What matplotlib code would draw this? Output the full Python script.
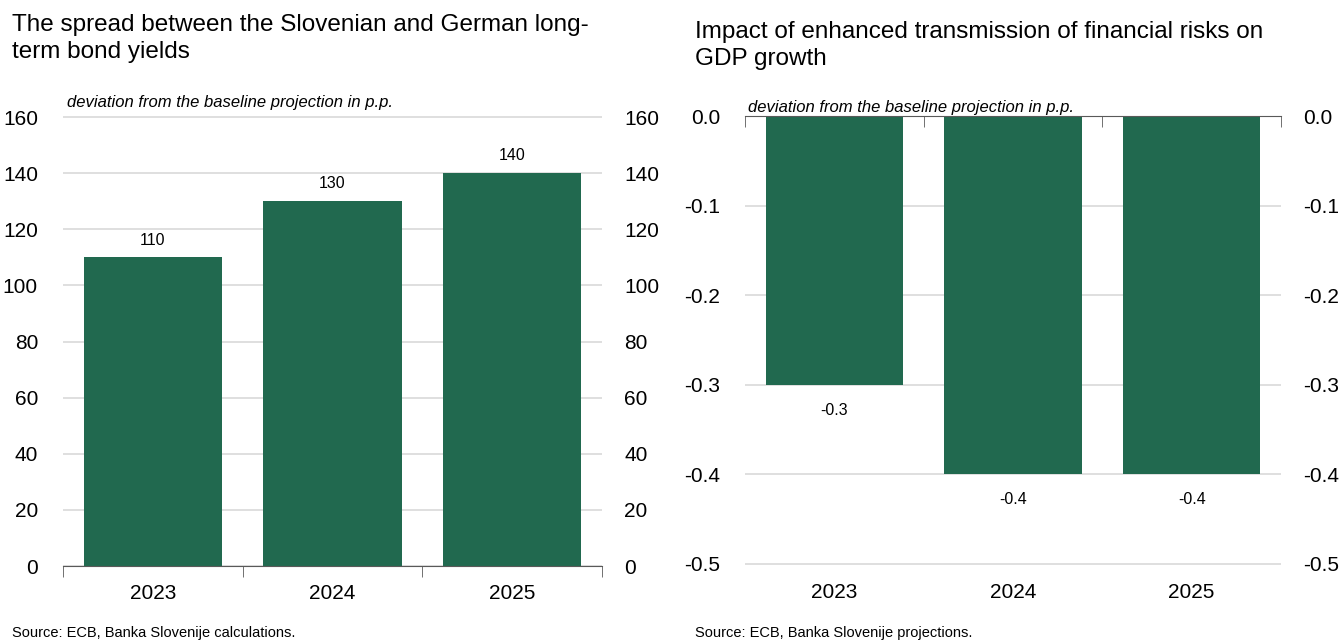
import matplotlib
matplotlib.use('Agg')
import matplotlib.pyplot as plt
import numpy as np

years = ['2023', '2024', '2025']
spread = [110, 130, 140]
gdp = [-0.3, -0.4, -0.4]

BAR = '#21694f'
GRID = '#d9d9d9'
AXIS = '#595959'
FONT = ['Liberation Sans', 'DejaVu Sans']
plt.rcParams['font.family'] = FONT

fig = plt.figure(figsize=(13.41, 6.41), dpi=100)
W, H = 1341, 641


def px_axes(x0, y0, x1, y1):
    return fig.add_axes([x0 / W, 1 - y1 / H, (x1 - x0) / W, (y1 - y0) / H])


def style(ax, ticks, fmt):
    ax.set_xlim(-0.5, 2.5)
    ax.set_yticks(ticks)
    ax.set_yticklabels([fmt(t) for t in ticks], fontsize=15)
    ax.tick_params(axis='y', left=False, right=False, labelleft=True, labelright=True, pad=14.5)
    # right-hand labels sit a bit closer to the plot
    for t in ax.yaxis.get_major_ticks():
        t.label2.set_x(1 - 3 / 540)
    ax.set_xticks(range(3))
    ax.set_xticklabels(years, fontsize=15)
    ax.set_xticks([-0.5, 0.5, 1.5, 2.5], minor=True)
    for s in ['top', 'right', 'left', 'bottom']:
        ax.spines[s].set_visible(False)
    ax.set_axisbelow(True)
    ax.yaxis.grid(True, color=GRID, linewidth=1.2)


x = np.arange(len(years))

# left chart
ax1 = px_axes(63, 116, 602, 566)
ax1.bar(x, spread, width=0.77, color=BAR, zorder=2)
ax1.set_ylim(0, 160.4)
style(ax1, np.arange(0, 161, 20), lambda t: f'{t:.0f}')
ax1.spines['bottom'].set_visible(True)
ax1.spines['bottom'].set_color(AXIS)
ax1.tick_params(axis='x', which='major', length=0, pad=13)
ax1.tick_params(axis='x', which='minor', length=8, direction='out', color=AXIS, bottom=True)
for xi, v in zip(x, spread):
    ax1.text(xi, v + 3.5, f'{v}', ha='center', va='bottom', fontsize=11.5)
ax1.text(4 / 539, 1 + 9 / 450, 'deviation from the baseline projection in p.p.', transform=ax1.transAxes,
         style='italic', fontsize=12, va='baseline')

# right chart
ax2 = px_axes(745, 116, 1281, 565)
ax2.bar(x, gdp, width=0.77, color=BAR, zorder=2)
ax2.set_ylim(-0.5012, 0)
style(ax2, np.arange(-0.5, 0.01, 0.1), lambda t: f'{t:.1f}' if abs(t) > 1e-9 else '0.0')
ax2.spines['top'].set_visible(True)
ax2.spines['top'].set_color(AXIS)
ax2.tick_params(axis='x', which='major', length=0, pad=13)
ax2.tick_params(axis='x', which='minor', length=8, direction='in', color=AXIS,
                bottom=False, top=True)
for xi, v in zip(x, gdp):
    ax2.text(xi, v - 0.02, f'{v:.1f}', ha='center', va='top', fontsize=11.5)
ax2.text(3 / 536, 1 + 4 / 449, 'deviation from the baseline projection in p.p.', transform=ax2.transAxes,
         style='italic', fontsize=12, va='baseline')

# titles and sources
fig.text(12 / W, 1 - 14 / H, 'The spread between the Slovenian and German long-\nterm bond yields',
         fontsize=17.5, va='top', linespacing=1.3)
fig.text(695 / W, 1 - 21 / H, 'Impact of enhanced transmission of financial risks on\nGDP growth',
         fontsize=17.5, va='top', linespacing=1.3)
fig.text(12 / W, 1 - 637 / H, 'Source: ECB, Banka Slovenije calculations.',
         fontsize=10.5, va='baseline')
fig.text(695 / W, 1 - 637 / H, 'Source: ECB, Banka Slovenije projections.',
         fontsize=10.5, va='baseline')

fig.savefig('out.png', dpi=100)
